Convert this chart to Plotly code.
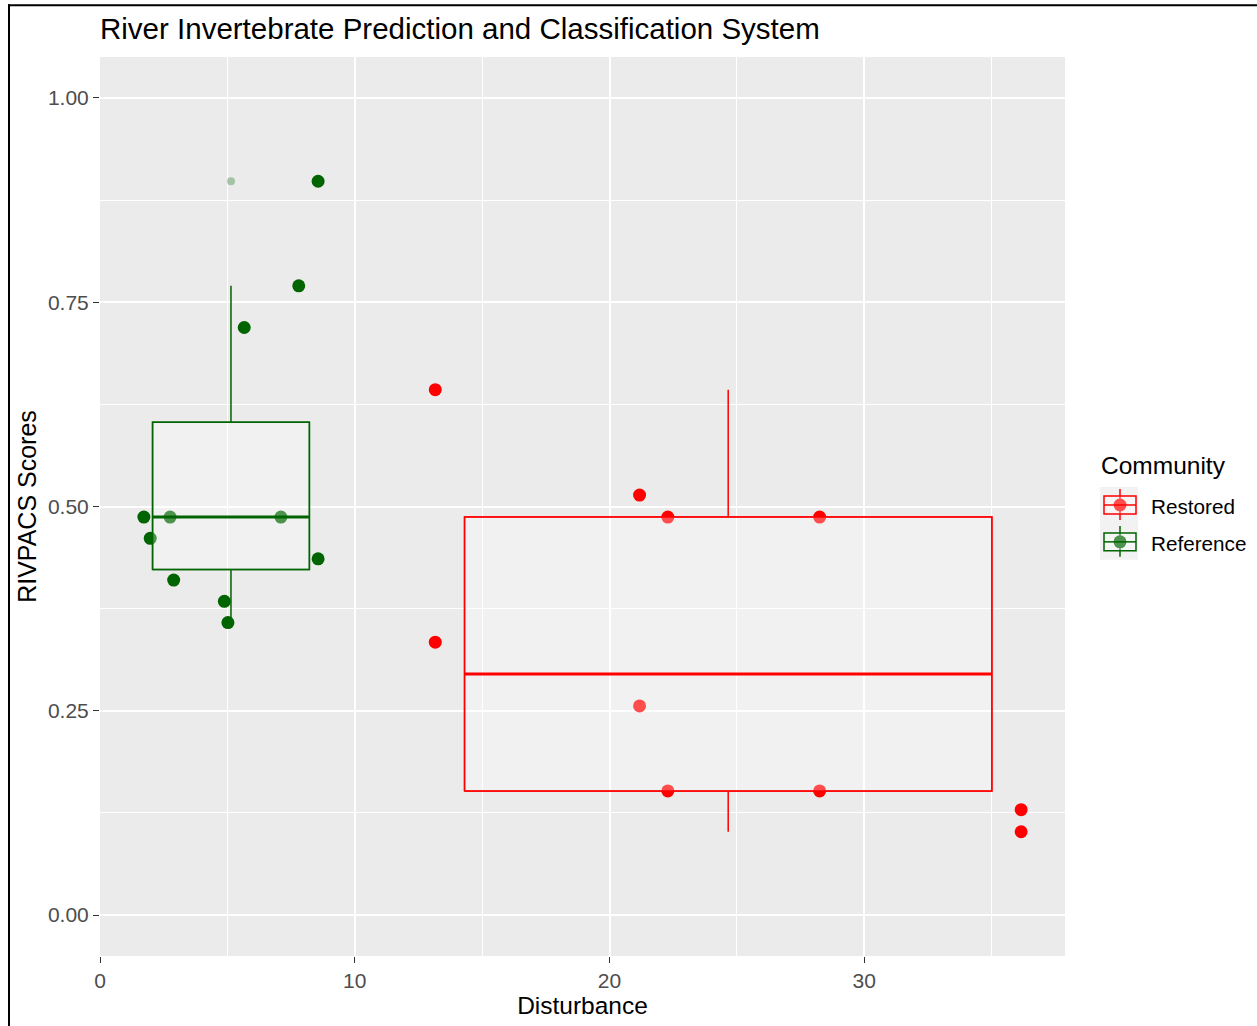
import numpy as np
import plotly.graph_objects as go

# ---- data -------------------------------------------------------------
restored_x = [13.16, 13.16, 21.18, 21.18, 22.29, 22.29, 28.25, 28.25, 36.16, 36.16]
restored_y = [0.643, 0.334, 0.514, 0.256, 0.487, 0.152, 0.487, 0.152, 0.129, 0.102]

reference_x = [8.56, 7.80, 5.66, 1.72, 2.75, 7.10, 1.97, 8.56, 2.89, 4.88, 5.02]
reference_y = [0.898, 0.770, 0.719, 0.487, 0.487, 0.487, 0.461, 0.436, 0.410, 0.384, 0.358]

groups = ["Restored", "Reference"]
colors = {"Restored": "#FF0000", "Reference": "#006400"}
series = {"Restored": (restored_x, restored_y), "Reference": (reference_x, reference_y)}

x_ticks = [0, 10, 20, 30]
y_ticks = [0.00, 0.25, 0.50, 0.75, 1.00]
y_tick_text = ["0.00", "0.25", "0.50", "0.75", "1.00"]

# ---- page geometry ----------------------------------------------------
W, H = 1257, 1026
ML, MR, MT, MB = 100, 192, 57, 66
PW, PH = W - ML - MR, H - MT - MB
FONT = "Liberation Sans, Arial, sans-serif"


def px(xp):
    return (xp - ML) / PW


def py(yp):
    return (H - MB - yp) / PH


def box_stats(y):
    """Tukey box statistics (type-7 quantiles, 1.5 IQR whiskers)."""
    y = np.asarray(y, float)
    q1, med, q3 = np.percentile(y, [25, 50, 75])
    iqr = q3 - q1
    inside = y[(y >= q1 - 1.5 * iqr) & (y <= q3 + 1.5 * iqr)]
    out = y[(y < q1 - 1.5 * iqr) | (y > q3 + 1.5 * iqr)]
    return q1, med, q3, inside.min(), inside.max(), out


fig = go.Figure()

stats = {}
for g in groups:
    xs, ys = series[g]
    q1, med, q3, lo, hi, out = box_stats(ys)
    centre = (min(xs) + max(xs)) / 2
    width = 0.9 * (max(xs) - min(xs))
    stats[g] = (q1, med, q3, lo, hi, out, centre, width)
    # box outline and whiskers
    fig.add_trace(go.Box(
        x=[centre], q1=[q1], median=[med], q3=[q3],
        lowerfence=[lo], upperfence=[hi], width=width,
        line=dict(color=colors[g], width=1.5), fillcolor="rgba(0,0,0,0)",
        whiskerwidth=0, showlegend=False, hoverinfo="skip",
    ))

# observations
for g in groups:
    xs, ys = series[g]
    fig.add_trace(go.Scatter(
        x=xs, y=ys, mode="markers", name=g, showlegend=False,
        marker=dict(color=colors[g], size=13, line=dict(width=0)),
    ))

# translucent box fill, outline and thick median drawn over the points
for g in groups:
    q1, med, q3, lo, hi, out, centre, width = stats[g]
    x0, x1 = centre - width / 2, centre + width / 2
    fig.add_trace(go.Scatter(
        x=[x0, x1, x1, x0, x0], y=[q1, q1, q3, q3, q1], mode="lines",
        fill="toself", fillcolor="rgba(255,255,255,0.3)",
        line=dict(color=colors[g], width=1.5), showlegend=False, hoverinfo="skip",
    ))
    fig.add_trace(go.Scatter(
        x=[x0, x1], y=[med, med], mode="lines",
        line=dict(color=colors[g], width=3), showlegend=False, hoverinfo="skip",
    ))
    if len(out):
        r, gg, b = (255, 0, 0) if g == "Restored" else (0, 100, 0)
        fig.add_trace(go.Scatter(
            x=[centre] * len(out), y=list(out), mode="markers", showlegend=False,
            marker=dict(color=f"rgba({r},{gg},{b},0.3)", size=8, line=dict(width=0)),
        ))

# x range with 5 % expansion around everything drawn
all_x = restored_x + reference_x
xmin, xmax = min(all_x), max(all_x)
pad = 0.05 * (xmax - xmin)

axis_common = dict(
    showline=False, zeroline=False, ticks="outside", ticklen=6, tickwidth=1.2,
    tickcolor="#333333", gridcolor="#FFFFFF", gridwidth=1.8,
    tickfont=dict(family=FONT, size=21, color="#4D4D4D"),
)

fig.update_xaxes(
    range=[xmin - pad, xmax + pad], tickvals=x_ticks,
    minor=dict(tickvals=[5, 15, 25, 35], showgrid=True, gridcolor="#FFFFFF", gridwidth=0.9, ticks=""),
    title=dict(text="Disturbance", font=dict(family=FONT, size=24.5, color="#000000"), standoff=5),
    **axis_common,
)
fig.update_yaxes(
    range=[-0.05, 1.05], tickvals=y_ticks, ticktext=y_tick_text,
    minor=dict(tickvals=[0.125, 0.375, 0.625, 0.875], showgrid=True, gridcolor="#FFFFFF", gridwidth=0.9, ticks=""),
    title=dict(text="RIVPACS Scores", font=dict(family=FONT, size=25, color="#000000"), standoff=4),
    **axis_common,
)

# ---- legend (ggplot style keys) ---------------------------------------
shapes = []
annotations = []
annotations.append(dict(
    x=px(1099), y=py(467), xref="paper", yref="paper", text="Community",
    showarrow=False, xanchor="left", yanchor="middle",
    font=dict(family=FONT, size=24.5, color="#000000"),
))
shapes.append(dict(type="rect", xref="paper", yref="paper", x0=px(1100), x1=px(1138),
                   y0=py(489), y1=py(562), fillcolor="#F2F2F2", line=dict(width=0), layer="above"))
for i, g in enumerate(groups):
    cy = 507 + 37 * i
    c = colors[g]
    shapes.append(dict(type="line", xref="paper", yref="paper", x0=px(1120), x1=px(1120),
                       y0=py(cy - 16), y1=py(cy + 15), line=dict(color=c, width=1.5), layer="above"))
    shapes.append(dict(type="circle", xref="paper", yref="paper", xsizemode="pixel", ysizemode="pixel",
                       xanchor=px(1120), yanchor=py(cy), x0=-6.5, x1=6.5, y0=-6.5, y1=6.5,
                       fillcolor=c, line=dict(width=0), layer="above"))
    shapes.append(dict(type="rect", xref="paper", yref="paper", x0=px(1104), x1=px(1136),
                       y0=py(cy - 9), y1=py(cy + 9), fillcolor="rgba(255,255,255,0.3)",
                       line=dict(color=c, width=1.5), layer="above"))
    shapes.append(dict(type="line", xref="paper", yref="paper", x0=px(1104), x1=px(1136),
                       y0=py(cy), y1=py(cy), line=dict(color=c, width=1.5), layer="above"))
    annotations.append(dict(
        x=px(1149), y=py(cy + 2), xref="paper", yref="paper", text=g,
        showarrow=False, xanchor="left", yanchor="middle",
        font=dict(family=FONT, size=20.7, color="#000000"),
    ))

# page frame
shapes.append(dict(type="line", xref="paper", yref="paper", x0=px(9), x1=px(9),
                   y0=py(4), y1=py(W), line=dict(color="#000000", width=2), layer="above"))
shapes.append(dict(type="line", xref="paper", yref="paper", x0=px(8), x1=px(W + 5),
                   y0=py(5), y1=py(5), line=dict(color="#000000", width=2), layer="above"))

fig.update_layout(
    width=W, height=H, autosize=False,
    margin=dict(l=ML, r=MR, t=MT, b=MB, pad=0),
    paper_bgcolor="#FFFFFF", plot_bgcolor="#EBEBEB",
    title=dict(text="River Invertebrate Prediction and Classification System",
               x=0, xref="paper", xanchor="left", y=1 - 29 / H, yref="container", yanchor="middle",
               font=dict(family=FONT, size=29.5, color="#000000")),
    showlegend=False, shapes=shapes, annotations=annotations,
    font=dict(family=FONT),
)

fig.write_html("out.html")
